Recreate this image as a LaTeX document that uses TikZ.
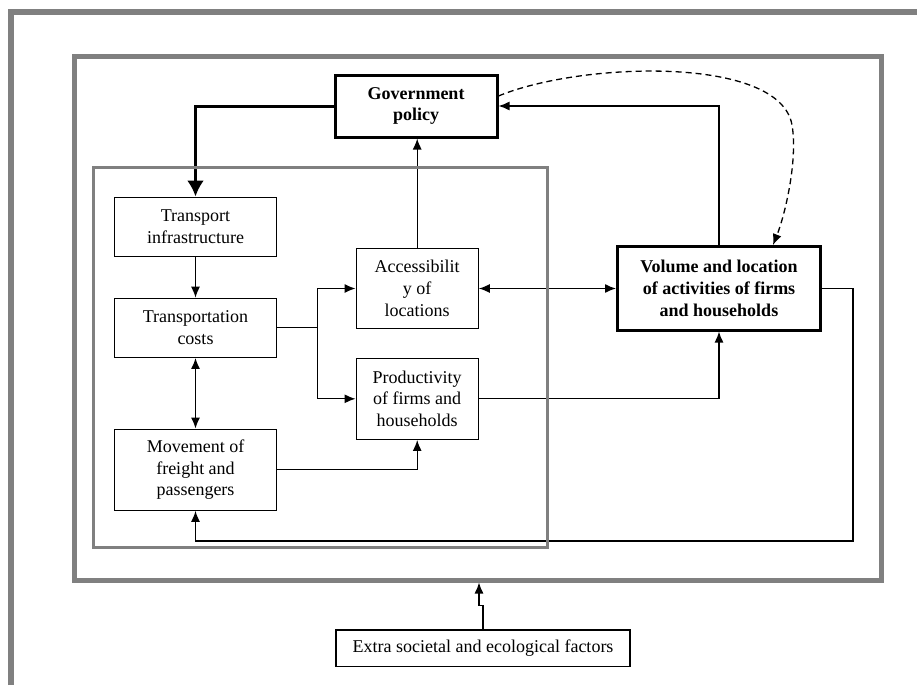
\documentclass[tikz,border=0pt]{standalone}
\usepackage{fontspec}
\setmainfont{Liberation Serif}
\usetikzlibrary{arrows.meta, positioning}
\definecolor{framegray}{HTML}{808080}

\begin{document}
\begin{tikzpicture}[
  x=1pt, y=-1pt,
  every node/.style={draw, align=center, inner sep=0pt, line width=1.3pt, font=\fontsize{18}{21.7}\selectfont},
  key/.style={line width=3pt, font=\fontsize{18}{21.7}\selectfont\bfseries},
  frame/.style={draw=framegray},
  arrow/.style={-{Latex[length=11pt,width=9pt]}, line width=1.3pt},
  biarrow/.style={{Latex[length=11pt,width=9pt]}-{Latex[length=11pt,width=9pt]}, line width=1.3pt},
  thickarrow/.style={-{Latex[length=16pt,width=17pt]}, line width=3pt},
  dasharrow/.style={arrow, dash pattern=on 6pt off 4pt},
]
\useasboundingbox (0,0) rectangle (917,685);

% Nodes
\node (gov)    [key, minimum width=162pt, minimum height=62pt] at (416,106) {Government\\policy};
\node (infra)  [minimum width=162pt, minimum height=59pt] at (195.5,226.7) {Transport\\infrastructure};
\node (costs)  [minimum width=162pt, minimum height=59pt] at (195.5,327.8) {Transportation\\costs};
\node (move)   [minimum width=162pt, minimum height=81pt] at (195.5,469.7) {Movement of\\freight and\\passengers};
\node (access) [minimum width=122pt, minimum height=80pt] at (417.2,288.5) {Accessibilit\\y of\\locations};
\node (prod)   [minimum width=122pt, minimum height=81pt] at (417.2,398.8) {Productivity\\of firms and\\households};
\node (volume) [key, minimum width=203pt, minimum height=83.5pt] at (719,288.3) {Volume and location\\of activities of firms\\and households};
\node (extra)  [minimum width=294pt, minimum height=36.5pt] at (483,648.3) {Extra societal and ecological factors};

% Arrows
\draw [thickarrow] (gov.west) -| (infra.north);
\draw [arrow] (infra) -- (costs);
\draw [biarrow] (costs) -- (move);
\draw [line width=1.3pt] (costs.east) -- ++(40,0) coordinate (split);
\draw [arrow] (split) |- (access.west);
\draw [arrow] (split) |- (prod.west);
\draw [arrow] (move.east) -| (prod.south);
\draw [arrow] (access.north) -- (access.north |- gov.south);
\draw [biarrow] (access.east) -- (access.east -| volume.west);
\draw [arrow] (prod.east) -| (volume.south);
\draw [arrow] (volume.north) |- (gov.east);
\draw [dasharrow] ([yshift=10pt]gov.east) .. controls (580,62) and (780,55) .. (792,125)
  .. controls (798,160) and (785,215) .. ([xshift=54pt]volume.north);
\draw [arrow] (volume.east) -- ++(31,0) |- ([yshift=-30pt]move.south) -- (move.south);

% Frames
\node (core)   [frame, line width=3pt, minimum width=454pt, minimum height=380.7pt] at (320.5,357.6) {};
\node (system) [frame, line width=5pt, minimum width=806.5pt, minimum height=523.5pt] at (477.75,318.25) {};
\draw [framegray, line width=6pt] (11,685) -- (11,12) -- (917,12);

\draw [arrow] (extra.north) -- ++(0,-24) -| ([xshift=-4pt]system.south -| extra.north);

\end{tikzpicture}
\end{document}
